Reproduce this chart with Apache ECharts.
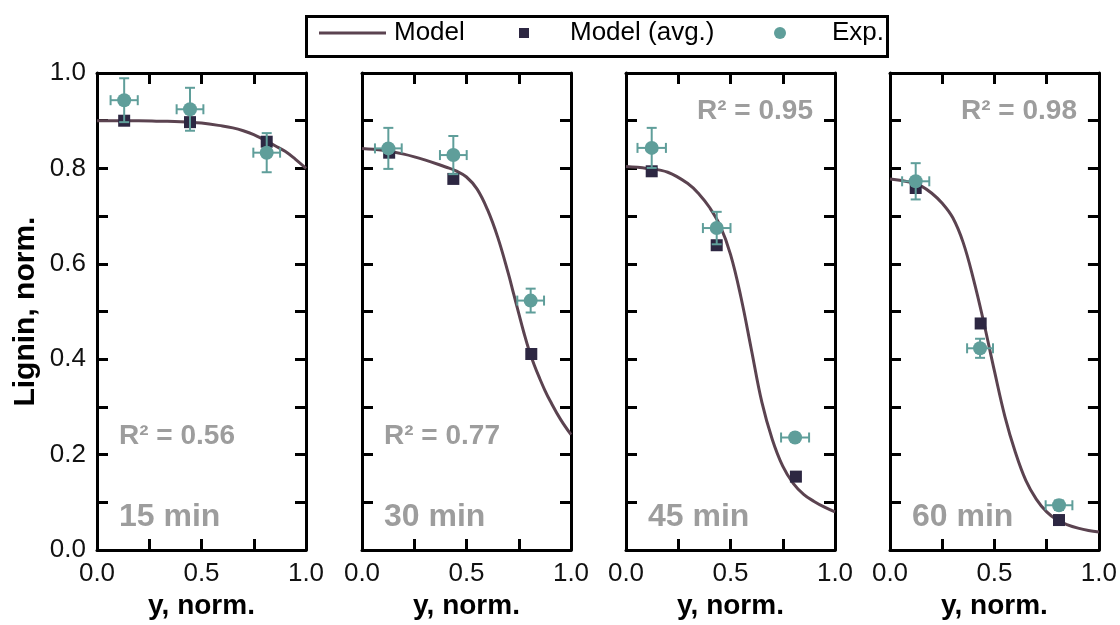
<!DOCTYPE html>
<html>
<head>
<meta charset="utf-8">
<script src="https://cdn.jsdelivr.net/npm/echarts@6/dist/echarts.min.js"></script>
<style>html,body{margin:0;padding:0;background:#fff}#c{width:1120px;height:625px}</style>
</head>
<body>
<div id="c"></div>
<script>
// ---- Data ----
const panelLabels = ['15 min', '30 min', '45 min', '60 min'];
const r2Labels = ['R\u00B2 = 0.56', 'R\u00B2 = 0.77', 'R\u00B2 = 0.95', 'R\u00B2 = 0.98'];
const xTickLabels = ['0.0', '0.5', '1.0'];
const yTickLabels = ['0.0', '0.2', '0.4', '0.6', '0.8', '1.0'];

// Model curves (x, y)
const curve15x = [0, 0.1, 0.2, 0.3, 0.4, 0.5, 0.6, 0.65, 0.7, 0.75, 0.8, 0.85, 0.9, 0.95, 1.0];
const curve15y = [0.900, 0.900, 0.900, 0.899, 0.898, 0.895, 0.889, 0.885, 0.879, 0.871, 0.860, 0.848, 0.836, 0.819, 0.800];
const curve30x = [0, 0.1, 0.2, 0.3, 0.4, 0.45, 0.5, 0.55, 0.6, 0.65, 0.7, 0.725, 0.75, 0.775, 0.8, 0.825, 0.85, 0.875, 0.9, 0.95, 1.0];
const curve30y = [0.842, 0.838, 0.830, 0.818, 0.803, 0.795, 0.782, 0.757, 0.714, 0.655, 0.580, 0.538, 0.496, 0.455, 0.418, 0.387, 0.360, 0.335, 0.313, 0.274, 0.242];
const curve45x = [0, 0.1, 0.2, 0.3, 0.35, 0.4, 0.45, 0.5, 0.55, 0.6, 0.65, 0.7, 0.75, 0.8, 0.85, 0.9, 0.95, 1.0];
const curve45y = [0.804, 0.800, 0.792, 0.767, 0.746, 0.718, 0.680, 0.620, 0.530, 0.420, 0.310, 0.232, 0.176, 0.140, 0.117, 0.102, 0.090, 0.080];
const curve60x = [0, 0.1, 0.15, 0.2, 0.25, 0.3, 0.35, 0.4, 0.45, 0.5, 0.55, 0.6, 0.65, 0.7, 0.75, 0.8, 0.85, 0.9, 0.95, 1.0];
const curve60y = [0.778, 0.771, 0.763, 0.748, 0.727, 0.697, 0.645, 0.567, 0.475, 0.375, 0.280, 0.205, 0.146, 0.107, 0.080, 0.063, 0.053, 0.046, 0.041, 0.038];

// Model (avg.) squares: x, y
const avgX = [[0.13, 0.445, 0.812], [0.13, 0.437, 0.81], [0.123, 0.434, 0.813], [0.123, 0.434, 0.809]];
const avgY = [[0.900, 0.897, 0.856], [0.833, 0.778, 0.411], [0.794, 0.639, 0.154], [0.759, 0.475, 0.063]];

// Experimental points: x, y, x-error, y-error
const expX = [[0.13, 0.445, 0.812], [0.126, 0.437, 0.807], [0.123, 0.434, 0.809], [0.123, 0.431, 0.809]];
const expY = [[0.943, 0.924, 0.833], [0.842, 0.828, 0.523], [0.843, 0.675, 0.236], [0.773, 0.423, 0.094]];
const expXErr = [[0.065, 0.064, 0.064], [0.064, 0.064, 0.064], [0.068, 0.066, 0.067], [0.065, 0.062, 0.064]];
const expYErr = [[0.046, 0.045, 0.041], [0.043, 0.040, 0.025], [0.042, 0.034, 0.008], [0.038, 0.020, 0.010]];

const curvesX = [curve15x, curve30x, curve45x, curve60x];
const curvesY = [curve15y, curve30y, curve45y, curve60y];

// ---- Styles / layout ----
const COL_LINE = '#5b4350';
const COL_SQ = '#2d2742';
const COL_EXP = '#5f9e9a';
const COL_ANN = '#9d9d9d';
const FONT = '"Liberation Sans", Arial, sans-serif';
const gridLefts = [97, 362, 626, 890];
const gridW = 209, gridTop = 73, gridH = 486;

const zip = (a, b) => a.map((v, i) => [v, b[i]]);

const grids = [], xAxes = [], yAxes = [], series = [], titles = [];
for (let p = 0; p < 4; p++) {
  grids.push({left: gridLefts[p], top: gridTop, width: gridW, height: gridH, show: false});
  const tickCommon = {show: true, inside: true, length: 11, lineStyle: {color: '#000', width: 3}};
  const lineCommon = {show: true, onZero: false, lineStyle: {color: '#000', width: 3}};
  xAxes.push({
    type: 'value', gridIndex: p, min: 0, max: 1, interval: 0.25, position: 'bottom',
    axisLine: lineCommon, axisTick: tickCommon, splitLine: {show: false},
    axisLabel: {show: true, margin: 11, color: '#111', fontFamily: FONT, fontSize: 26,
      formatter: v => { const s = v.toFixed(1); return (Math.abs(v * 2 - Math.round(v * 2)) < 1e-6 && xTickLabels.includes(s)) ? s : ''; }},
    name: 'y, norm.', nameLocation: 'middle', nameGap: 38,
    nameTextStyle: {fontFamily: FONT, fontWeight: 'bold', fontSize: 28, color: '#000'}
  });
  xAxes.push({
    type: 'value', gridIndex: p, min: 0, max: 1, interval: 0.25, position: 'top',
    axisLine: lineCommon, axisTick: tickCommon, splitLine: {show: false}, axisLabel: {show: false}
  });
  yAxes.push(Object.assign({
    type: 'value', gridIndex: p, min: 0, max: 1, interval: 0.1, position: 'left',
    axisLine: lineCommon, axisTick: tickCommon, splitLine: {show: false},
    axisLabel: {show: p === 0, margin: 11, color: '#111', fontFamily: FONT, fontSize: 26,
      formatter: v => { const s = v.toFixed(1); return yTickLabels.includes(s) && Math.round(v * 10) % 2 === 0 ? s : ''; }}
  }, p === 0 ? {
    name: 'Lignin, norm.', nameLocation: 'middle', nameGap: 56,
    nameTextStyle: {fontFamily: FONT, fontWeight: 'bold', fontSize: 30, color: '#000'}
  } : {}));
  yAxes.push({
    type: 'value', gridIndex: p, min: 0, max: 1, interval: 0.1, position: 'right',
    axisLine: lineCommon, axisTick: tickCommon, splitLine: {show: false}, axisLabel: {show: false}
  });

  series.push({
    name: 'Model', type: 'line', xAxisIndex: 2 * p, yAxisIndex: 2 * p,
    data: zip(curvesX[p], curvesY[p]), smooth: 0.4, showSymbol: false, symbol: 'none',
    lineStyle: {color: COL_LINE, width: 3}, itemStyle: {color: COL_LINE}, z: 2, silent: true
  });
  series.push({
    name: 'Model (avg.)', type: 'scatter', xAxisIndex: 2 * p, yAxisIndex: 2 * p,
    data: zip(avgX[p], avgY[p]), symbol: 'rect', symbolSize: 12,
    itemStyle: {color: COL_SQ, opacity: 1}, z: 3
  });
  series.push({
    name: 'Exp. error', type: 'custom', xAxisIndex: 2 * p, yAxisIndex: 2 * p,
    data: expX[p].map((x, i) => [x, expY[p][i], expXErr[p][i], expYErr[p][i]]),
    encode: {x: 0, y: 1}, z: 4, clip: false, silent: true,
    renderItem: (params, api) => {
      const x = api.value(0), y = api.value(1), ex = api.value(2), ey = api.value(3);
      const l = api.coord([x - ex, y]), r = api.coord([x + ex, y]);
      const t = api.coord([x, y + ey]), b = api.coord([x, y - ey]);
      const cap = 5;
      const st = {stroke: COL_EXP, lineWidth: 2};
      const seg = (x1, y1, x2, y2) => ({type: 'line', shape: {x1, y1, x2, y2}, style: st});
      return {type: 'group', children: [
        seg(l[0], l[1], r[0], r[1]),
        seg(t[0], t[1], b[0], b[1]),
        seg(l[0], l[1] - cap, l[0], l[1] + cap),
        seg(r[0], r[1] - cap, r[0], r[1] + cap),
        seg(t[0] - cap, t[1], t[0] + cap, t[1]),
        seg(b[0] - cap, b[1], b[0] + cap, b[1])
      ]};
    }
  });
  series.push({
    name: 'Exp.', type: 'scatter', xAxisIndex: 2 * p, yAxisIndex: 2 * p,
    data: zip(expX[p], expY[p]), symbol: 'circle', symbolSize: 14,
    itemStyle: {color: COL_EXP, opacity: 1}, z: 5
  });

  // panel annotations
  titles.push({
    text: panelLabels[p], left: gridLefts[p] + 22, top: 501, padding: 0,
    textStyle: {fontFamily: FONT, fontWeight: 'bold', fontSize: 32, color: COL_ANN}
  });
  const r2 = {text: r2Labels[p], padding: 0,
    textStyle: {fontFamily: FONT, fontWeight: 'bold', fontSize: 28, color: COL_ANN}};
  if (p < 2) { r2.left = gridLefts[p] + 22; r2.top = 422; }
  else { r2.right = 1120 - (gridLefts[p] + gridW - 22); r2.top = 97; }
  titles.push(r2);
}

const legTop = 20;
const legText = {fontFamily: FONT, fontSize: 26, color: '#000'};
const option = {
  backgroundColor: '#fff',
  animation: false,
  title: titles,
  grid: grids,
  xAxis: xAxes,
  yAxis: yAxes,
  series: series,
  legend: [
    {data: [{name: 'Model', icon: 'rect'}], left: 319, top: legTop, padding: 0,
     itemWidth: 67, itemHeight: 3, selectedMode: false, textStyle: Object.assign({padding: [0, 0, 0, 3]}, legText)},
    {data: [{name: 'Model (avg.)', icon: 'rect'}], left: 519, top: legTop, padding: 0,
     itemWidth: 10, itemHeight: 10, selectedMode: false, textStyle: Object.assign({padding: [0, 0, 0, 36]}, legText)},
    {data: [{name: 'Exp.', icon: 'circle'}], left: 774, top: legTop, padding: 0,
     itemWidth: 12, itemHeight: 12, selectedMode: false, textStyle: Object.assign({padding: [0, 0, 0, 41]}, legText)}
  ],
  graphic: [{
    type: 'rect', shape: {x: 306.5, y: 16.5, width: 581, height: 40},
    style: {fill: 'none', stroke: '#000', lineWidth: 3}, z: 100, silent: true
  }]
};
const chart = echarts.init(document.getElementById('c'), null, {renderer: 'canvas'});
chart.setOption(option);
</script>
</body>
</html>
